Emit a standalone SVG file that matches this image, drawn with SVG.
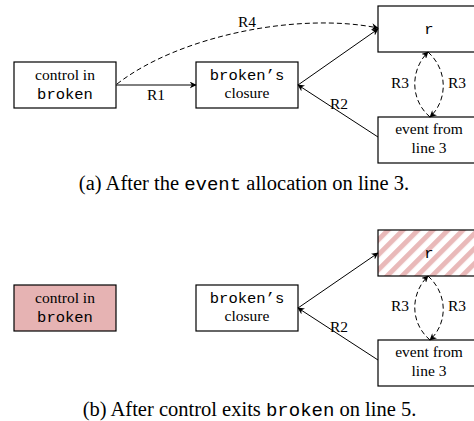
<svg xmlns="http://www.w3.org/2000/svg" width="474" height="421" viewBox="0 0 474 421">
<style>
.box{fill:#fff;stroke:#000;stroke-width:1.2}
.t{font-family:"Liberation Serif","Times New Roman",serif;font-size:15.5px;fill:#000;text-anchor:middle}
.m{font-family:"Liberation Mono","Courier New",monospace;font-size:15.5px;fill:#000;text-anchor:middle}
.cap{font-family:"Liberation Serif","Times New Roman",serif;font-size:20.5px;fill:#000;text-anchor:middle}
.cm{font-family:"Liberation Mono","Courier New",monospace;font-size:19px}
.ln{fill:none;stroke:#000;stroke-width:1}
.dash{stroke-dasharray:5,3}
</style>
<defs>
<marker id="ah" viewBox="0 0 10 10" refX="9" refY="5" markerWidth="7" markerHeight="7" markerUnits="userSpaceOnUse" orient="auto">
<path d="M0,0 L10,5 L0,10 L3,5 z" fill="#000"/>
</marker>
<pattern id="hatch" patternUnits="userSpaceOnUse" width="10.6" height="10.6" patternTransform="rotate(45)">
<rect x="0" y="0" width="10.6" height="10.6" fill="#fff"/>
<rect x="0" y="0" width="5" height="10.6" fill="#e9b9b9"/>
</pattern>
</defs>

<!-- (a) -->
<g id="a-control"><rect class="box" x="14" y="62" width="102" height="46"/><text class="t" x="65" y="80">control in</text><text class="m" x="65" y="99">broken</text></g>
<g id="a-closure"><rect class="box" x="196" y="62" width="102" height="46"/><text class="m" x="247" y="80">broken’s</text><text class="t" x="247" y="98">closure</text></g>
<g id="a-r"><rect class="box" x="378" y="6" width="102" height="46"/><text class="m" x="429" y="34">r</text></g>
<g id="a-event"><rect class="box" x="378" y="117" width="102" height="46"/><text class="t" x="429" y="134">event from</text><text class="t" x="429" y="153">line 3</text></g>
<g id="a-connectors">
<line class="ln" x1="116" y1="85" x2="196" y2="85" marker-end="url(#ah)"/>
<text class="t" x="156" y="100">R1</text>
<path class="ln dash" d="M117,84 C180,35 300,12 378,28" marker-end="url(#ah)"/>
<text class="t" x="247" y="27">R4</text>
<line class="ln" x1="298" y1="85" x2="378" y2="29" marker-end="url(#ah)"/>
<line class="ln" x1="378" y1="137" x2="298" y2="85" marker-end="url(#ah)"/>
<text class="t" x="339" y="109">R2</text>
<path class="ln dash" d="M430,117 C410,100 410,70 428,52" marker-end="url(#ah)"/>
<path class="ln dash" d="M428,52 C448,70 448,100 430,117" marker-end="url(#ah)"/>
<text class="t" x="400" y="88">R3</text>
<text class="t" x="457" y="88">R3</text>
</g>
<text class="cap" x="244" y="190">(a) After the <tspan class="cm">event</tspan> allocation on line 3.</text>

<!-- (b) -->
<g id="b-control"><rect class="box" x="14" y="285" width="102" height="46" style="fill:#e6b3b3"/><text class="t" x="65" y="303">control in</text><text class="m" x="65" y="322">broken</text></g>
<g id="b-closure"><rect class="box" x="196" y="285" width="102" height="46"/><text class="m" x="247" y="303">broken’s</text><text class="t" x="247" y="321">closure</text></g>
<g id="b-r"><rect class="box" x="378" y="230" width="102" height="46" style="fill:url(#hatch)"/><text class="m" x="429" y="258">r</text></g>
<g id="b-event"><rect class="box" x="378" y="340" width="102" height="46"/><text class="t" x="429" y="357">event from</text><text class="t" x="429" y="376">line 3</text></g>
<g id="b-connectors">
<line class="ln" x1="298" y1="308" x2="378" y2="253" marker-end="url(#ah)"/>
<line class="ln" x1="378" y1="360" x2="298" y2="308" marker-end="url(#ah)"/>
<text class="t" x="339" y="332">R2</text>
<path class="ln dash" d="M430,340 C410,323 410,294 428,276" marker-end="url(#ah)"/>
<path class="ln dash" d="M428,276 C448,294 448,323 430,340" marker-end="url(#ah)"/>
<text class="t" x="400" y="311">R3</text>
<text class="t" x="457" y="311">R3</text>
</g>
<text class="cap" x="249.5" y="416">(b) After control exits <tspan class="cm">broken</tspan> on line 5.</text>
</svg>
